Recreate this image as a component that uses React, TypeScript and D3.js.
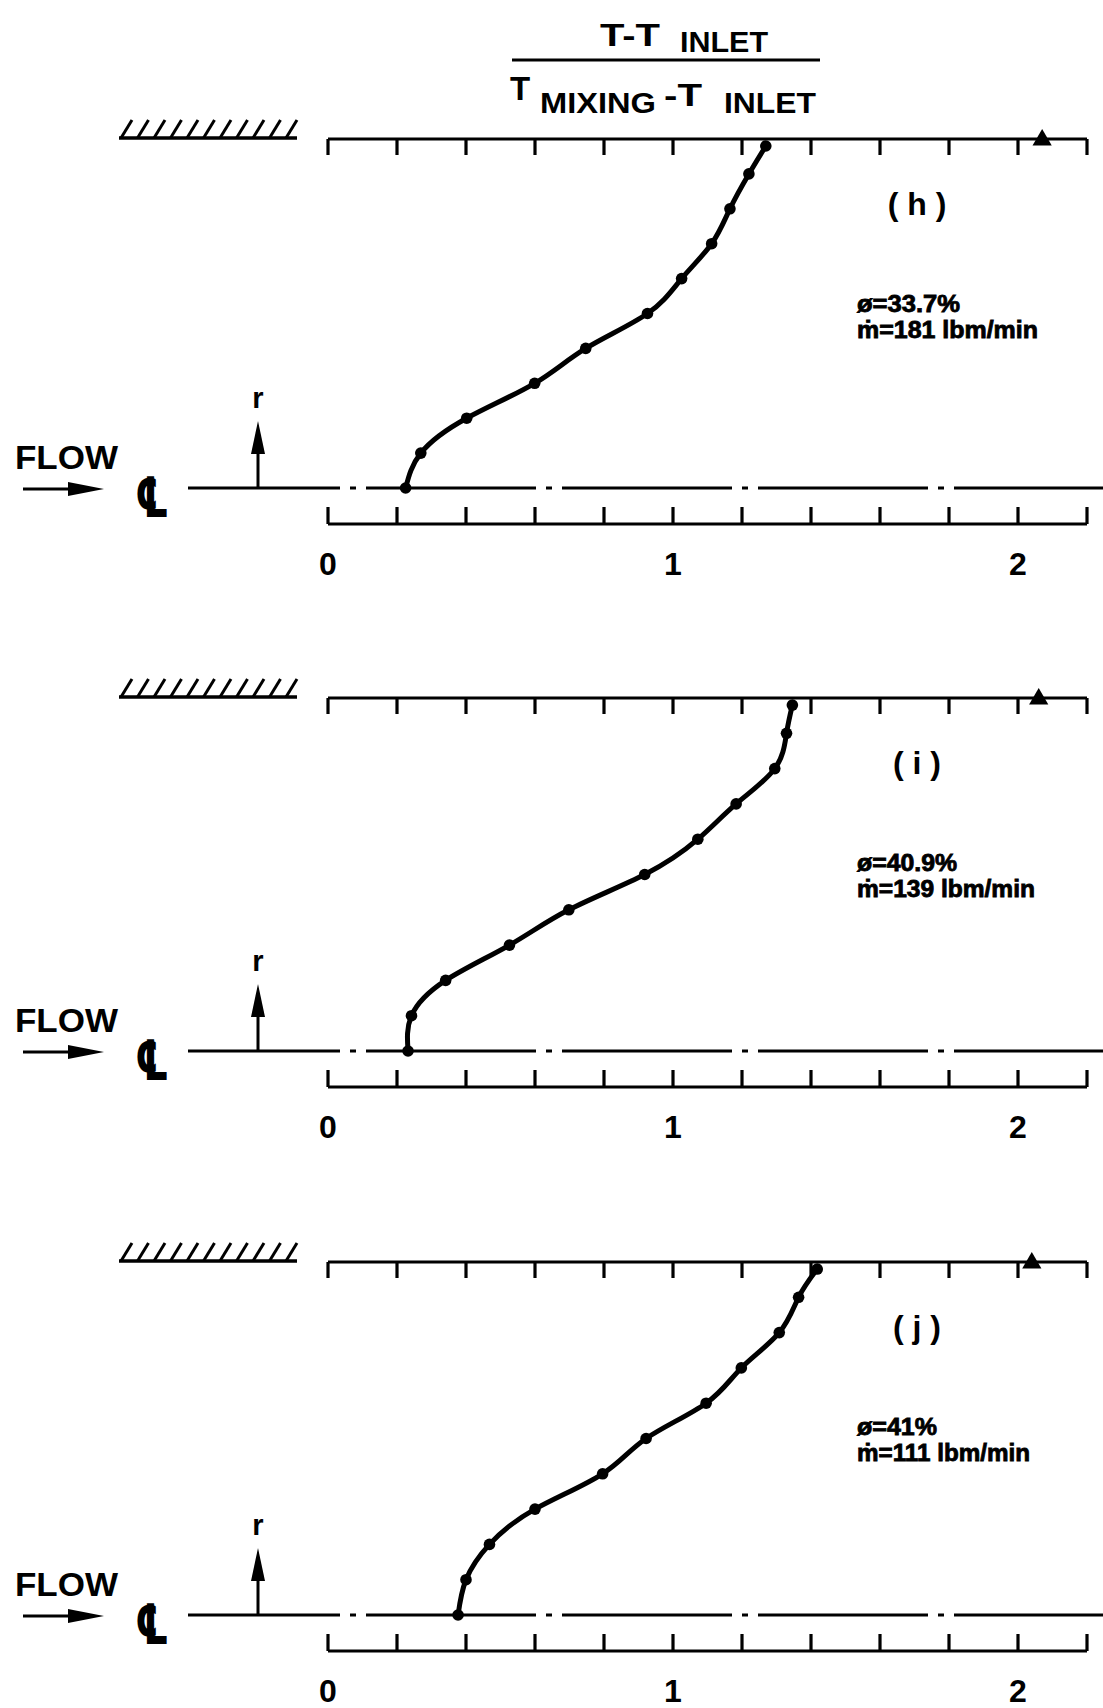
import * as d3 from "d3";

// radial stations r/R, shared by all three traverses
const R_POS = [0, 0.1, 0.2, 0.3, 0.4, 0.5, 0.6, 0.7, 0.8, 0.9, 0.98];

// (T - T_inlet) / (T_mixing - T_inlet) at each station
const THETA_H = [0.225, 0.269, 0.402, 0.599, 0.747, 0.926, 1.025, 1.112, 1.165, 1.22, 1.269];
const THETA_I = [0.232, 0.242, 0.341, 0.526, 0.698, 0.918, 1.072, 1.183, 1.295, 1.329, 1.346];
const THETA_J = [0.377, 0.4, 0.468, 0.6, 0.796, 0.922, 1.096, 1.198, 1.308, 1.364, 1.418];

// wall value (triangle on the wall axis)
const WALL_MARK = [2.07, 2.06, 2.04];

const PANEL_IDS = ["h", "i", "j"];
const PHI_LABELS = ["ø=33.7%", "ø=40.9%", "ø=41%"];
const MDOT_LABELS = ["ṁ=181 lbm/min", "ṁ=139 lbm/min", "ṁ=111 lbm/min"];

const X_TICKS = [0, 0.2, 0.4, 0.6, 0.8, 1.0, 1.2, 1.4, 1.6, 1.8, 2.0, 2.2];
const X_LABELS = [0, 1, 2];

const WIDTH = 1103;
const HEIGHT = 1708;
const FONT = "'Liberation Sans', Arial, sans-serif";

// top = wall axis, cl = centreline
const LAYOUT = [
  { top: 139, cl: 488 },
  { top: 698, cl: 1051 },
  { top: 1262, cl: 1615 },
];
const SERIES = [THETA_H, THETA_I, THETA_J];
const PHI_W = [103, 100, 80];
const MDOT_W = [181, 178, 173];

const x = d3.scaleLinear().domain([0, 2.2]).range([328, 1087]);

function Panel({ idx }: { idx: number }) {
  const { top, cl } = LAYOUT[idx];
  const y = d3.scaleLinear().domain([0, 1]).range([cl, top]);
  const values = SERIES[idx];
  const pts: [number, number][] = values.map((v, i) => [x(v), y(R_POS[i])]);
  const line = d3.line().curve(d3.curveNatural);
  const tri = d3.symbol(d3.symbolTriangle, 160)();
  const bottom = cl + 36;
  const hatch = d3.range(0, 11).map((k) => 121 + k * 16.5);

  return (
    <g>
      {/* wall hatching */}
      <line x1={119} x2={297} y1={top - 1} y2={top - 1} stroke="#000" strokeWidth={3.5} />
      {hatch.map((hx) => (
        <line key={hx} x1={hx} y1={top - 1} x2={hx + 11} y2={top - 19} stroke="#000" strokeWidth={3} />
      ))}

      {/* wall axis */}
      <line x1={x(0)} x2={x(2.2)} y1={top} y2={top} stroke="#000" strokeWidth={3.2} />
      {X_TICKS.map((t) => (
        <line key={t} x1={x(t)} x2={x(t)} y1={top} y2={top + 16} stroke="#000" strokeWidth={3.2} />
      ))}
      <path d={tri!} transform={`translate(${x(WALL_MARK[idx])},${top + 1})`} fill="#000" />

      {/* centreline */}
      <line x1={188} x2={WIDTH} y1={cl} y2={cl} stroke="#000" strokeWidth={3.2}
        strokeDasharray="170 10 6 10" strokeDashoffset={18} />

      {/* bottom scale */}
      <line x1={x(0)} x2={x(2.2)} y1={bottom} y2={bottom} stroke="#000" strokeWidth={3.2} />
      {X_TICKS.map((t) => (
        <line key={t} x1={x(t)} x2={x(t)} y1={bottom} y2={bottom - 17} stroke="#000" strokeWidth={3.2} />
      ))}
      {X_LABELS.map((t) => (
        <text key={t} x={x(t)} y={cl + 87} textAnchor="middle" fontSize={32} fontWeight="bold">
          {t}
        </text>
      ))}

      {/* profile */}
      <path d={line(pts)!} fill="none" stroke="#000" strokeWidth={5} strokeLinecap="round" />
      {pts.map(([px, py], i) => (
        <circle key={i} cx={px} cy={py} r={5.8} fill="#000" />
      ))}

      {/* flow / r annotation */}
      <text x={15} y={cl - 19} fontSize={33} fontWeight="bold" textLength={103} lengthAdjust="spacingAndGlyphs">
        FLOW
      </text>
      <line x1={23} x2={75} y1={cl + 1} y2={cl + 1} stroke="#000" strokeWidth={3.2} />
      <path d={`M68,${cl - 6} L104,${cl + 1} L68,${cl + 8} Z`} fill="#000" />
      <text transform={`translate(152,${cl + 29}) scale(0.95,1.4)`} textAnchor="middle" fontSize={40}
        fontWeight="bold" fontFamily="'DejaVu Sans', sans-serif">
        ℄
      </text>
      <line x1={258} x2={258} y1={cl} y2={cl - 40} stroke="#000" strokeWidth={3} />
      <path d={`M251,${cl - 34} L258,${cl - 67} L265,${cl - 34} Z`} fill="#000" />
      <text x={258} y={cl - 80} textAnchor="middle" fontSize={29} fontWeight="bold">r</text>

      {/* run label */}
      <text x={917} y={top + 76} textAnchor="middle" fontSize={32} fontWeight="bold">
        {`( ${PANEL_IDS[idx]} )`}
      </text>
      <text x={857} y={top + 173} fontSize={23} fontWeight="bold" stroke="#000" strokeWidth={0.8}
        textLength={PHI_W[idx]} lengthAdjust="spacingAndGlyphs">
        {PHI_LABELS[idx]}
      </text>
      <text x={857} y={top + 199} fontSize={23} fontWeight="bold" stroke="#000" strokeWidth={0.8}
        textLength={MDOT_W[idx]} lengthAdjust="spacingAndGlyphs">
        {MDOT_LABELS[idx]}
      </text>
    </g>
  );
}

export default function App() {
  return (
    <>
      <style>{`body{margin:0;}`}</style>
      <svg width={WIDTH} height={HEIGHT} viewBox={`0 0 ${WIDTH} ${HEIGHT}`}
        style={{ display: "block", background: "#fff", fontFamily: FONT }}>
        {/* axis title */}
        <g fontWeight="bold">
          <text x={600} y={46} fontSize={32} textLength={60} lengthAdjust="spacingAndGlyphs">T-T</text>
          <text x={680} y={52} fontSize={29} textLength={88} lengthAdjust="spacingAndGlyphs">INLET</text>
          <line x1={512} x2={820} y1={60} y2={60} stroke="#000" strokeWidth={3.2} />
          <text x={510} y={100} fontSize={33}>T</text>
          <text x={540} y={113} fontSize={29} textLength={116} lengthAdjust="spacingAndGlyphs">MIXING</text>
          <text x={664} y={106} fontSize={32} textLength={38} lengthAdjust="spacingAndGlyphs">-T</text>
          <text x={724} y={113} fontSize={29} textLength={92} lengthAdjust="spacingAndGlyphs">INLET</text>
        </g>
        {LAYOUT.map((_, i) => (
          <Panel key={i} idx={i} />
        ))}
      </svg>
    </>
  );
}
